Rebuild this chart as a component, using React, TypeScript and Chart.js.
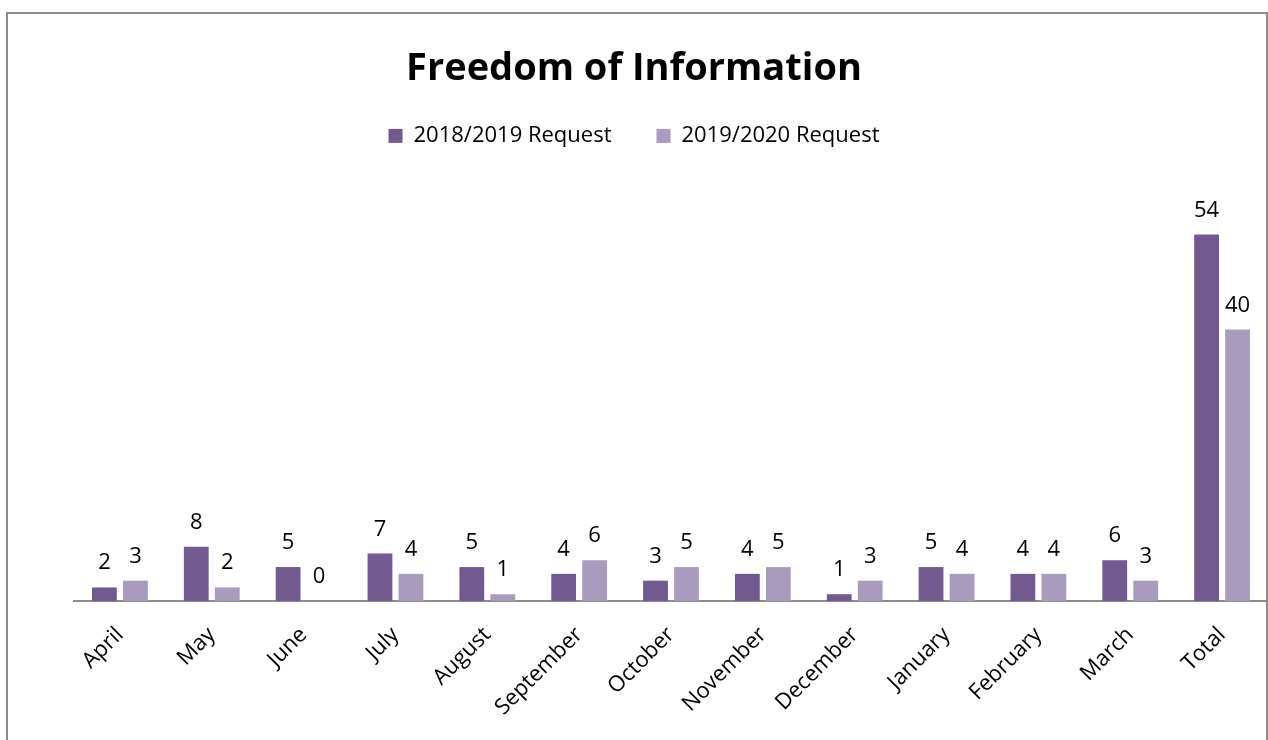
import React, { useEffect, useRef } from "react";
import { Chart, registerables } from "chart.js";

Chart.register(...registerables);

const categories = [
  "April", "May", "June", "July", "August", "September", "October",
  "November", "December", "January", "February", "March", "Total",
];
const series2018 = [2, 8, 5, 7, 5, 4, 3, 4, 1, 5, 4, 6, 54];
const series2019 = [3, 2, 0, 4, 1, 6, 5, 5, 3, 4, 4, 3, 40];
const seriesNames = ["2018/2019 Request", "2019/2020 Request"];
const colors = ["#72598F", "#A99BBE"];

const FONT = "'Open Sans', sans-serif";

const borderPlugin = {
  id: "outerBorder",
  beforeDraw(chart: any) {
    const ctx = chart.ctx;
    ctx.save();
    ctx.fillStyle = "#ffffff";
    ctx.fillRect(0, 0, chart.width, chart.height);
    ctx.strokeStyle = "#8c8c8c";
    ctx.lineWidth = 2;
    ctx.strokeRect(7, 13, 1260, 800);
    ctx.restore();
  },
};

const legendSpacePlugin = {
  id: "legendSpace",
  beforeUpdate(chart: any) {
    const lg = chart.legend;
    if (lg && !lg.__patched) {
      const orig = lg.fit;
      lg.fit = function (this: any) {
        orig.call(this);
        this.height += 37;
      };
      lg.__patched = true;
    }
  },
};

const labelPlugin = {
  id: "valueLabels",
  afterDatasetsDraw(chart: any) {
    const ctx = chart.ctx;
    ctx.save();
    ctx.font = `22px ${FONT}`;
    ctx.fillStyle = "#000000";
    ctx.textAlign = "center";
    ctx.textBaseline = "alphabetic";
    chart.data.datasets.forEach((ds: any, i: number) => {
      const meta = chart.getDatasetMeta(i);
      meta.data.forEach((el: any, j: number) => {
        ctx.fillText(String(ds.data[j]), el.x, el.y - 18);
      });
    });
    ctx.restore();
  },
};

export default function App() {
  const ref = useRef<HTMLCanvasElement>(null);
  useEffect(() => {
    if (!ref.current) return;
    const chart = new Chart(ref.current, {
      type: "bar",
      data: {
        labels: categories,
        datasets: [
          {
            label: seriesNames[0],
            data: series2018,
            backgroundColor: colors[0],
            categoryPercentage: 0.675,
            barPercentage: 0.8,
          },
          {
            label: seriesNames[1],
            data: series2019,
            backgroundColor: colors[1],
            categoryPercentage: 0.675,
            barPercentage: 0.8,
          },
        ],
      },
      options: {
        responsive: false,
        animation: false,
        devicePixelRatio: 1,
        layout: { padding: { left: 0, right: 0, top: 0, bottom: 0 } },
        plugins: {
          title: {
            display: true,
            text: "Freedom of Information",
            color: "#000000",
            font: { family: FONT, size: 38, weight: "bold", lineHeight: 0.55 },
            padding: { top: 59, bottom: 0 },
          },
          legend: {
            display: true,
            position: "top",
            labels: {
              color: "#000000",
              font: { family: FONT, size: 22 },
              boxWidth: 14,
              boxHeight: 14,
              padding: 45,
            },
          },
          tooltip: { enabled: false },
        },
        scales: {
          x: {
            grid: { display: false },
            border: { display: true, color: "#8c8c8c", width: 2 },
            ticks: {
              color: "#000000",
              font: { family: FONT, size: 22 },
              minRotation: 45,
              maxRotation: 45,
              autoSkip: false,
              padding: 13,
            },
            afterFit(scale: any) {
              scale.height = 139;
            },
          },
          y: {
            min: 0,
            max: 60,
            grid: { display: false },
            border: { display: false },
            ticks: { display: false },
            afterFit(scale: any) {
              scale.width = 74;
            },
          },
        },
      },
      plugins: [borderPlugin, legendSpacePlugin, labelPlugin],
    });
    return () => chart.destroy();
  }, []);
  return (
    <div style={{ position: "absolute", left: 0, top: 0, width: 1268, height: 740 }}>
      <canvas ref={ref} width={1268} height={740} style={{ display: "block" }} />
    </div>
  );
}
